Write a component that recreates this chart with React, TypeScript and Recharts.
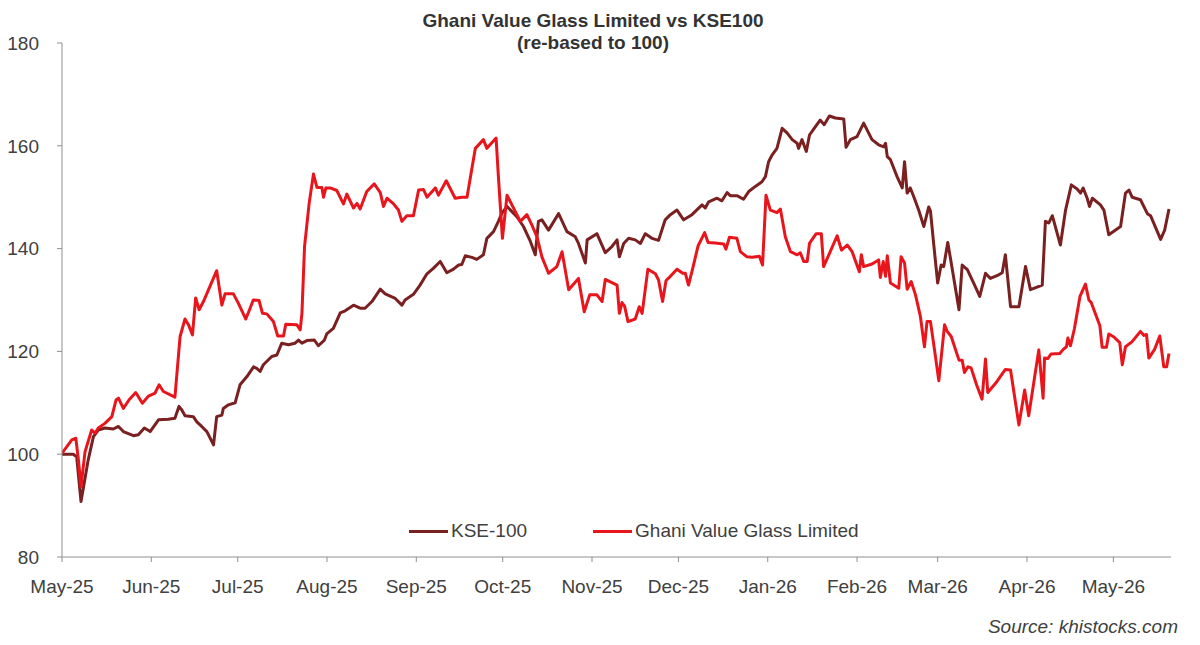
import React from "react";
import { Legend, Line, LineChart, XAxis, YAxis } from "recharts";

// x values are days since 1 May 2025
const monthTicks = [0, 31, 61, 92, 123, 153, 184, 214, 245, 276, 304, 335, 365];
const monthLabels = [
  "May-25", "Jun-25", "Jul-25", "Aug-25", "Sep-25", "Oct-25", "Nov-25",
  "Dec-25", "Jan-26", "Feb-26", "Mar-26", "Apr-26", "May-26",
];
const yTicks = [80, 100, 120, 140, 160, 180];
const legendOrder = ["KSE-100", "Ghani Value Glass Limited"];

const kseDays = [
  0, 3.9, 5.1, 6.6, 9.1, 10.9, 12.6, 14.9, 17.8, 19.6, 21.3, 24.8, 26.5, 28.6, 30.6,
  33.5, 36.9, 39.2, 40.6, 41.6, 42.7, 45.6, 46.8, 48.5, 50.3, 52.6, 53.7, 55.5, 56.0,
  57.8, 60.1, 61.8, 64.2, 66.5, 67.6, 68.8, 69.9, 72.8, 74.6, 76.3, 78.6, 80.9, 82.1,
  83.3, 85.0, 87.6, 89.0, 91.1, 91.9, 94.2, 96.6, 98.3, 101.2, 103.5, 105.2, 107.6,
  110.5, 112.2, 115.7, 118.0, 119.1, 122.0, 124.3, 126.7, 129.0, 131.3, 133.6, 135.9,
  137.7, 138.8, 140.0, 142.3, 144.0, 146.3, 147.5, 149.8, 151.5, 152.7, 154.5, 156.2,
  157.9, 160.2, 162.6, 164.3, 165.4, 166.6, 168.9, 172.4, 175.3, 178.2, 179.3, 181.7,
  182.3, 185.7, 188.6, 190.9, 192.7, 193.5, 195.0, 196.7, 199.0, 200.8, 202.5, 204.8,
  207.1, 209.4, 211.2, 213.5, 215.8, 218.7, 222.2, 223.3, 224.5, 227.4, 229.1, 230.9,
  232.0, 234.3, 236.6, 238.4, 240.7, 243.0, 244.2, 245.3, 246.5, 248.2, 250.0, 251.7,
  253.5, 255.2, 255.7, 256.9, 258.4, 259.5, 261.5, 263.2, 264.6, 266.4, 268.5, 271.4,
  272.2, 273.7, 276.0, 278.3, 281.2, 283.5, 285.3, 285.9, 286.5, 287.6, 289.9, 291.7,
  292.5, 293.4, 294.5, 295.7, 297.4, 299.2, 300.9, 301.5, 302.6, 304.0, 305.2, 306.1,
  307.5, 309.1, 311.4, 312.5, 314.3, 316.5, 318.6, 320.6, 322.3, 325.2, 326.4, 327.5,
  329.3, 332.2, 334.5, 336.2, 340.3, 341.4, 342.6, 343.8, 346.6, 348.4, 350.4, 352.4,
  353.6, 354.5, 355.9, 356.7, 357.7, 360.5, 361.7, 363.4, 367.5, 369.2, 370.4, 371.5,
  374.4, 376.8, 377.9, 381.4, 382.8, 384.3,
];
const kseValues = [
  100.0, 100.0, 99.5, 90.8, 98.9, 103.4, 104.7, 105.1, 104.9, 105.4, 104.4, 103.6, 103.8,
  105.1, 104.4, 106.7, 106.8, 107.0, 109.3, 108.6, 107.5, 107.3, 106.3, 105.4, 104.4,
  101.8, 107.3, 107.6, 108.9, 109.6, 110.0, 113.5, 115.1, 117.0, 116.7, 116.1, 117.4,
  119.0, 119.3, 121.6, 121.3, 121.6, 122.2, 121.6, 122.1, 122.2, 121.1, 122.2, 123.4,
  124.5, 127.5, 127.9, 129.0, 128.4, 128.4, 129.7, 132.1, 131.2, 130.3, 129.0, 130.0,
  131.1, 132.9, 135.1, 136.2, 137.5, 135.3, 136.0, 136.8, 136.9, 138.6, 138.3, 137.9,
  138.8, 142.0, 143.3, 145.3, 146.9, 148.2, 147.2, 146.2, 144.3, 141.4, 138.8, 145.3,
  145.6, 143.6, 146.8, 143.3, 142.3, 141.0, 137.2, 141.7, 142.9, 139.2, 140.4, 141.7,
  138.4, 141.0, 142.0, 141.7, 141.0, 142.9, 142.0, 141.6, 145.6, 146.6, 147.5, 145.6,
  146.6, 148.5, 147.9, 149.1, 149.8, 149.3, 150.9, 150.3, 150.3, 149.6, 151.1, 152.1,
  153.0, 154.0, 156.9, 158.2, 159.5, 163.4, 162.5, 161.2, 160.5, 159.5, 161.2, 158.9,
  162.1, 163.7, 165.0, 164.1, 165.8, 165.4, 165.2, 159.7, 161.2, 161.8, 164.4, 161.2,
  160.2, 159.8, 160.5, 157.9, 157.3, 154.0, 151.8, 156.9, 150.8, 151.8, 150.1, 147.5,
  144.3, 148.1, 147.3, 141.0, 133.3, 136.8, 136.5, 141.2, 135.9, 128.1, 136.8, 135.9,
  133.3, 130.7, 135.2, 134.2, 134.9, 135.3, 138.8, 128.7, 128.7, 136.5, 132.0, 132.9,
  145.3, 145.0, 146.4, 140.7, 147.5, 152.4, 151.6, 150.8, 151.8, 149.8, 148.2, 149.8,
  148.5, 147.5, 142.7, 144.3, 150.8, 151.4, 150.0, 149.5, 146.8, 146.4, 141.8, 143.6,
  147.7,
];

const ghaniDays = [
  0, 3.4, 4.8, 5.7, 6.6, 8.0, 10.3, 11.5, 12.6, 14.9, 17.3, 18.8, 19.6, 21.3, 23.3, 25.6,
  27.9, 30.0, 32.3, 33.7, 35.2, 39.2, 41.0, 42.7, 43.9, 45.3, 46.4, 47.6, 49.1, 51.1,
  53.7, 55.5, 56.6, 59.5, 61.2, 63.8, 65.1, 66.4, 68.4, 69.6, 71.1, 73.4, 74.9, 76.9,
  77.7, 81.5, 82.7, 83.3, 84.2, 85.8, 87.3, 88.5, 90.2, 90.8, 91.6, 93.1, 95.4, 97.7,
  98.9, 101.2, 102.4, 103.5, 105.8, 108.4, 110.5, 111.6, 112.8, 115.1, 116.8, 118.0,
  119.7, 122.0, 123.8, 125.5, 126.7, 129.6, 130.7, 133.4, 136.5, 138.8, 140.6, 143.5,
  146.3, 147.5, 150.7, 151.5, 152.9, 154.5, 156.2, 159.1, 161.4, 163.1, 164.9, 166.6,
  168.9, 171.8, 173.6, 175.9, 179.3, 181.3, 183.2, 185.7, 187.5, 188.6, 192.7, 193.5,
  194.4, 195.3, 196.5, 199.0, 200.4, 201.4, 203.4, 206.0, 207.1, 208.5, 209.7, 211.2,
  213.5, 215.5, 216.4, 217.5, 218.9, 220.8, 223.1, 224.3, 226.8, 229.7, 230.5, 231.7,
  234.3, 235.5, 237.8, 239.6, 242.1, 243.2, 244.4, 245.9, 248.2, 249.4, 251.1, 252.9,
  255.2, 256.3, 257.5, 258.7, 259.5, 261.8, 263.6, 264.4, 266.7, 269.1, 270.6, 272.6,
  274.3, 276.8, 277.5, 278.3, 281.2, 283.5, 284.1, 285.1, 285.9, 286.5, 287.6, 290.5,
  291.3, 292.5, 293.4, 294.8, 296.3, 298.0, 299.4, 300.3, 301.5, 302.9, 304.4, 306.4,
  307.3, 308.7, 311.4, 312.5, 313.3, 314.5, 315.6, 317.5, 319.4, 320.6, 321.4, 324.1,
  327.5, 329.3, 332.2, 334.2, 335.6, 339.1, 340.6, 341.1, 342.2, 343.4, 346.4, 347.6,
  348.7, 349.2, 350.1, 351.5, 353.4, 355.3, 356.5, 357.3, 360.3, 361.1, 362.6, 363.4,
  365.2, 367.2, 368.1, 369.2, 371.5, 374.4, 375.6, 376.5, 377.3, 379.3, 381.1, 382.5,
  383.5, 384.3,
];
const ghaniValues = [
  100.2, 102.8, 103.1, 98.9, 93.7, 100.5, 104.7, 104.1, 105.1, 106.0, 107.3, 110.6, 110.9,
  108.9, 110.6, 112.0, 109.9, 111.3, 111.9, 113.5, 112.2, 111.1, 122.9, 126.3, 125.2,
  123.2, 130.4, 128.1, 129.7, 132.3, 135.7, 129.0, 131.2, 131.2, 129.4, 126.3, 128.1,
  130.0, 129.9, 127.4, 127.3, 125.8, 123.0, 123.0, 125.3, 125.2, 124.2, 127.4, 140.4,
  148.8, 154.5, 151.9, 151.9, 150.0, 151.8, 151.8, 151.3, 148.7, 150.6, 147.9, 148.8,
  147.7, 151.1, 152.6, 150.9, 148.2, 149.8, 148.7, 147.5, 145.3, 146.4, 146.4, 151.4,
  151.5, 150.0, 151.8, 150.4, 153.2, 149.8, 150.0, 150.0, 159.5, 161.2, 159.5, 161.5,
  154.0, 142.0, 150.4, 148.5, 145.3, 146.6, 144.6, 142.3, 138.4, 135.2, 136.5, 139.4,
  132.0, 134.2, 127.7, 131.0, 131.0, 129.7, 134.0, 132.9, 127.4, 129.5, 128.8, 125.8,
  126.3, 128.7, 127.4, 136.0, 135.1, 133.9, 129.7, 133.8, 134.6, 136.0, 135.2, 135.2,
  132.9, 136.0, 140.5, 143.1, 141.2, 141.1, 140.9, 139.9, 142.2, 142.0, 139.4, 138.4,
  138.3, 138.5, 136.8, 150.4, 147.5, 147.0, 147.7, 142.3, 139.4, 138.8, 139.2, 137.5,
  137.5, 141.0, 142.9, 142.9, 136.5, 139.4, 142.5, 139.7, 140.7, 139.4, 135.5, 138.8,
  136.5, 137.0, 137.8, 134.4, 137.5, 134.6, 138.6, 133.3, 132.3, 138.4, 137.2, 132.1,
  133.6, 131.0, 126.8, 120.9, 125.8, 125.8, 120.3, 114.3, 125.2, 123.9, 122.9, 118.3,
  118.3, 115.9, 117.0, 116.8, 113.5, 110.7, 118.5, 112.0, 113.8, 116.5, 116.4, 105.7,
  112.5, 107.5, 120.3, 110.9, 118.7, 118.6, 119.5, 119.6, 120.4, 120.9, 122.6, 121.1,
  124.5, 130.7, 133.1, 130.0, 129.5, 125.0, 120.8, 120.8, 123.4, 122.8, 121.7, 117.4,
  120.9, 121.9, 123.9, 123.1, 123.3, 118.7, 120.4, 123.0, 117.0, 117.0, 119.6,
];

const kseData = kseDays.map((day, i) => ({ day, value: kseValues[i] }));
const ghaniData = ghaniDays.map((day, i) => ({ day, value: ghaniValues[i] }));

const FONT = "'Liberation Sans', Arial, sans-serif";
const TEXT = "#404040";
const AXIS = "#8f8f8f";

const renderLegend = (props: any) => {
  const items = [...(props.payload || [])].sort(
    (a: any, b: any) => legendOrder.indexOf(a.value) - legendOrder.indexOf(b.value)
  );
  return (
    <div style={{ display: "flex", alignItems: "center", height: 22 }}>
      {items.map((entry: any, i: number) => (
        <div
          key={entry.value}
          style={{ display: "flex", alignItems: "center", marginLeft: i === 0 ? 0 : 66 }}
        >
          <div style={{ width: 39, height: 3, background: entry.color }} />
          <span style={{ marginLeft: 3, fontSize: 19, color: TEXT, lineHeight: "22px" }}>
            {entry.value}
          </span>
        </div>
      ))}
    </div>
  );
};

const App = () => {
  return (
    <div
      style={{
        position: "absolute",
        left: 0,
        top: 0,
        width: 1200,
        height: 645,
        background: "#fff",
        fontFamily: FONT,
      }}
    >
      <div
        style={{
          position: "absolute",
          left: 0,
          top: 10,
          width: 1186,
          textAlign: "center",
          fontSize: 19,
          fontWeight: "bold",
          lineHeight: "22px",
          color: "#333",
        }}
      >
        <div>Ghani Value Glass Limited vs KSE100</div>
        <div>(re-based to 100)</div>
      </div>
      <LineChart
        width={1200}
        height={645}
        margin={{ top: 43, right: 29, left: 0, bottom: 58 }}
        style={{ fontFamily: FONT }}
      >
        <XAxis
          type="number"
          dataKey="day"
          domain={[0, 385]}
          ticks={monthTicks}
          tickFormatter={(v: number) => monthLabels[monthTicks.indexOf(v)]}
          allowDataOverflow
          height={30}
          stroke={AXIS}
          tickSize={5}
          tickMargin={18}
          tick={{ fill: TEXT, fontSize: 19 }}
        />
        <YAxis
          type="number"
          domain={[80, 180]}
          ticks={yTicks}
          width={62}
          stroke={AXIS}
          tickSize={5}
          tickMargin={18}
          tick={{ fill: TEXT, fontSize: 19 }}
        />
        <Legend
          verticalAlign="middle"
          align="center"
          layout="horizontal"
          content={renderLegend}
          wrapperStyle={{ top: 520, left: 409, width: "auto" }}
        />
        <Line
          data={kseData}
          dataKey="value"
          name="KSE-100"
          type="linear"
          stroke="#7B2020"
          strokeWidth={3}
          dot={false}
          strokeLinejoin="round"
          isAnimationActive={false}
        />
        <Line
          data={ghaniData}
          dataKey="value"
          name="Ghani Value Glass Limited"
          type="linear"
          stroke="#E8161C"
          strokeWidth={3}
          dot={false}
          strokeLinejoin="round"
          isAnimationActive={false}
        />
      </LineChart>
      <div
        style={{
          position: "absolute",
          right: 22,
          top: 616,
          fontSize: 19,
          fontStyle: "italic",
          lineHeight: "22px",
          color: TEXT,
        }}
      >
        Source: khistocks.com
      </div>
    </div>
  );
};

export default App;
